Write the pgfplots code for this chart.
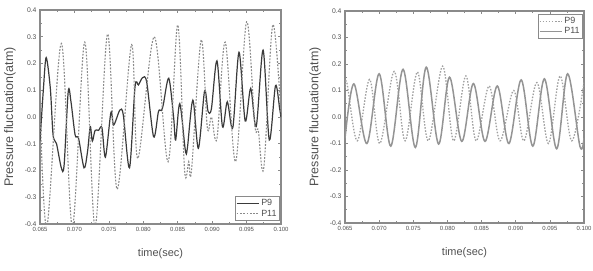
\documentclass[border=0pt]{standalone}
\usepackage{fontspec}
\setmainfont{Liberation Sans}
\usepackage{pgfplots}
\pgfplotsset{compat=1.18}
\definecolor{axgray}{HTML}{8A8A8A}
\definecolor{txtgray}{HTML}{505050}
\definecolor{pnine}{HTML}{3A3A3A}
\definecolor{peleven}{HTML}{8A8A8A}
\definecolor{rsolid}{HTML}{949494}
\definecolor{rdot}{HTML}{A0A0A0}
\pgfplotsset{myax/.style={
  scale only axis,
  xmin=0.065, xmax=0.100, ymin=-0.4, ymax=0.4,
  xtick={0.065,0.070,0.075,0.080,0.085,0.090,0.095,0.100},
  ytick={-0.4,-0.3,-0.2,-0.1,0,0.1,0.2,0.3,0.4},
  minor x tick num=1, minor y tick num=1,
  scaled x ticks=false, scaled y ticks=false,
  tick align=inside,
  axis line style={axgray, line width=1.1bp},
  tick style={axgray, line width=0.6bp},
  major tick length=3bp, minor tick length=1.8bp,
  /pgf/number format/assume math mode=true,
  x tick label style={font=\fontsize{6}{6}\selectfont, text=txtgray,
     /pgf/number format/.cd, fixed, fixed zerofill, precision=3},
  y tick label style={font=\fontsize{6.8}{7}\selectfont, text=txtgray,
     /pgf/number format/.cd, fixed, fixed zerofill, precision=1},
  xlabel={time(sec)}, ylabel={Pressure fluctuation(atm)},
  xlabel style={font=\fontsize{11}{11}\selectfont, text=txtgray,
     at={(axis description cs:0.5,-0.14)}, anchor=center},
  ylabel style={font=\fontsize{12.5}{13}\selectfont, text=txtgray,
     at={(axis description cs:-0.125,0.5)}, anchor=center},
  legend style={draw=axgray, line width=0.5bp, font=\fontsize{9}{9}\selectfont,
     text=txtgray, inner sep=1bp, row sep=-1.5bp, legend cell align=left},
  legend image code/.code={\draw (0bp,0bp) -- (22bp,0bp);},
  clip=true,
}}
\begin{document}
\begin{tikzpicture}[x=1bp,y=1bp]
\path[use as bounding box] (0,0) rectangle (593,270);
\begin{axis}[myax, at={(40bp,46bp)}, anchor=south west, width=241bp, height=214bp,
  legend style={at={(axis description cs:0.995,0.015)}, anchor=south east}]
\addplot[pnine, line width=1.2bp, smooth, tension=0.5] coordinates {
(0.0650,-0.09) (0.0655,0.107) (0.0659,0.222) (0.0665,0.107) (0.0669,-0.067)
(0.0674,-0.10) (0.0681,-0.19) (0.0685,-0.18) (0.0691,0.095) (0.0695,0.057)
(0.0701,-0.067) (0.0706,-0.08) (0.0714,-0.19) (0.0719,-0.13) (0.0723,-0.036)
(0.0726,-0.09) (0.0730,-0.05) (0.0735,-0.05) (0.0740,-0.04) (0.0745,-0.15)
(0.0753,0.017) (0.0757,-0.03) (0.0766,0.026) (0.0771,0.007) (0.0780,-0.19)
(0.0788,0.113) (0.0793,0.12) (0.0799,0.147) (0.0805,0.13) (0.0815,-0.074)
(0.0822,0.02) (0.0826,0.024) (0.0829,0.045) (0.0837,0.145) (0.0844,0.0)
(0.0847,-0.086) (0.0853,0.05) (0.0861,-0.123) (0.0864,-0.117) (0.0872,0.063)
(0.0880,-0.117) (0.0889,0.097) (0.0894,0.022) (0.0899,0.032) (0.0907,0.21)
(0.0915,-0.036) (0.0922,0.057) (0.0930,-0.04) (0.0939,0.242) (0.0948,-0.015)
(0.0956,0.107) (0.0964,-0.036) (0.0974,0.25) (0.0983,-0.086) (0.0992,0.117)
(0.0998,0.032) (0.1000,0.0)
};
\addlegendentry{P9}
\addplot[peleven, line width=1.1bp, dash pattern=on 1.8bp off 1.5bp, smooth, tension=0.55] coordinates {
(0.0650,0.05) (0.0660,-0.41) (0.0681,0.275) (0.0697,-0.41) (0.0715,0.28)
(0.0730,-0.41) (0.0748,0.31) (0.0762,-0.27) (0.0783,0.27) (0.0792,-0.155)
(0.0816,0.30) (0.0836,-0.167) (0.0850,0.344) (0.0860,-0.2) (0.0866,-0.167)
(0.0870,-0.2) (0.0884,0.288) (0.0893,-0.04) (0.0899,0.0) (0.0907,-0.08)
(0.0919,0.28) (0.0934,-0.167) (0.0950,0.356) (0.0962,-0.03) (0.0967,-0.05)
(0.0975,-0.19) (0.0988,0.344) (0.1000,0.01)
};
\addlegendentry{P11}
\end{axis}
\begin{axis}[myax, at={(345bp,47bp)}, anchor=south west, width=239bp, height=212bp,
  legend style={at={(axis description cs:0.995,0.985)}, anchor=north east}]
\addplot[rdot, line width=1.3bp, dash pattern=on 1.5bp off 1.6bp, smooth, tension=0.55] coordinates {
(0.0650,0.11) (0.0653,0.126) (0.0668,-0.09) (0.0686,0.142) (0.0701,-0.10)
(0.0722,0.172) (0.0738,-0.09) (0.0756,0.17) (0.0772,-0.09) (0.0793,0.192)
(0.0809,-0.09) (0.0827,0.155) (0.0842,-0.09) (0.0861,0.117) (0.0877,-0.09)
(0.0897,0.10) (0.0912,-0.09) (0.0931,0.13) (0.0948,-0.10) (0.0965,0.155)
(0.0982,-0.09) (0.1000,0.13)
};
\addlegendentry{P9}
\addplot[rsolid, line width=1.5bp, smooth, tension=0.55] coordinates {
(0.0650,-0.08) (0.0663,0.125) (0.0682,-0.10) (0.0700,0.163) (0.0717,-0.11)
(0.0735,0.18) (0.0753,-0.115) (0.0769,0.188) (0.0787,-0.102) (0.0803,0.15)
(0.0821,-0.092) (0.0838,0.126) (0.0855,-0.092) (0.0873,0.117) (0.0890,-0.10)
(0.0908,0.14) (0.0925,-0.11) (0.0942,0.144) (0.0960,-0.12) (0.0976,0.163)
(0.0994,-0.11) (0.1000,-0.08)
};
\addlegendentry{P11}
\end{axis}
\end{tikzpicture}
\end{document}
